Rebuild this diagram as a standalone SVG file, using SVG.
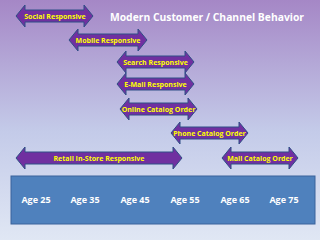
<svg xmlns="http://www.w3.org/2000/svg" width="320" height="240" viewBox="0 0 320 240">
<defs>
<linearGradient id="bg" x1="0" y1="0" x2="0" y2="1">
<stop offset="0" stop-color="#a587c6"/>
<stop offset="0.55" stop-color="#c4cbe9"/>
<stop offset="1" stop-color="#e0e7f4"/>
</linearGradient>
<style>
.arr{fill:#7030a0;stroke:#2f4f86;stroke-width:1}
.lbl{font-family:"Open Sans","Liberation Sans",sans-serif;font-weight:bold;font-size:7px;fill:#ffff00;text-anchor:middle}
.age{font-family:"Open Sans","Liberation Sans",sans-serif;font-weight:bold;font-size:9px;fill:#ffffff;text-anchor:middle}
.title{font-family:"Open Sans","Liberation Sans",sans-serif;font-weight:bold;font-size:11px;fill:#ffffff}
</style>
</defs>
<rect width="320" height="240" fill="url(#bg)"/>
<text class="title" x="110" y="21" textLength="194" lengthAdjust="spacingAndGlyphs">Modern Customer / Channel Behavior</text>
<g id="connectors">
<g id="social"><path class="arr" d="M16,16 L25,5 L25,10 L84,10 L84,5 L93,16 L84,27 L84,22 L25,22 L25,27 Z"/><text class="lbl" x="55" y="18.5">Social Responsive</text></g>
<g id="mobile"><path class="arr" d="M69,40 L78,29 L78,34 L138,34 L138,29 L147,40 L138,51 L138,46 L78,46 L78,51 Z"/><text class="lbl" x="108" y="42.5">Mobile Responsive</text></g>
<g id="search"><path class="arr" d="M117,62 L126,51 L126,56 L185,56 L185,51 L194,62 L185,73 L185,68 L126,68 L126,73 Z"/><text class="lbl" x="155.5" y="64.5">Search Responsive</text></g>
<g id="email"><path class="arr" d="M117,84 L126,73 L126,78 L185,78 L185,73 L194,84 L185,95 L185,90 L126,90 L126,95 Z"/><text class="lbl" x="155.5" y="86.5">E-Mail Responsive</text></g>
<g id="online"><path class="arr" d="M120,109 L129,98 L129,103 L188,103 L188,98 L197,109 L188,120 L188,115 L129,115 L129,120 Z"/><text class="lbl" x="158.5" y="111.5">Online Catalog Order</text></g>
<g id="phone"><path class="arr" d="M171,133 L180,122 L180,127 L239,127 L239,122 L248,133 L239,144 L239,139 L180,139 L180,144 Z"/><text class="lbl" x="209.5" y="135.5">Phone Catalog Order</text></g>
<g id="retail"><path class="arr" d="M16,158 L25,147 L25,152 L173,152 L173,147 L182,158 L173,169 L173,164 L25,164 L25,169 Z"/><text class="lbl" x="99" y="160.5">Retail In-Store Responsive</text></g>
<g id="mail"><path class="arr" d="M222,158 L231,147 L231,152 L289,152 L289,147 L298,158 L289,169 L289,164 L231,164 L231,169 Z"/><text class="lbl" x="260" y="160.5">Mail Catalog Order</text></g>
</g>
<g id="ages">
<rect x="11" y="176" width="304" height="48" fill="#4f81bd" stroke="#3a639b" stroke-width="1"/>
<text class="age" x="36" y="203">Age 25</text>
<text class="age" x="85" y="203">Age 35</text>
<text class="age" x="135" y="203">Age 45</text>
<text class="age" x="185" y="203">Age 55</text>
<text class="age" x="235" y="203">Age 65</text>
<text class="age" x="284" y="203">Age 75</text>
</g>
</svg>
